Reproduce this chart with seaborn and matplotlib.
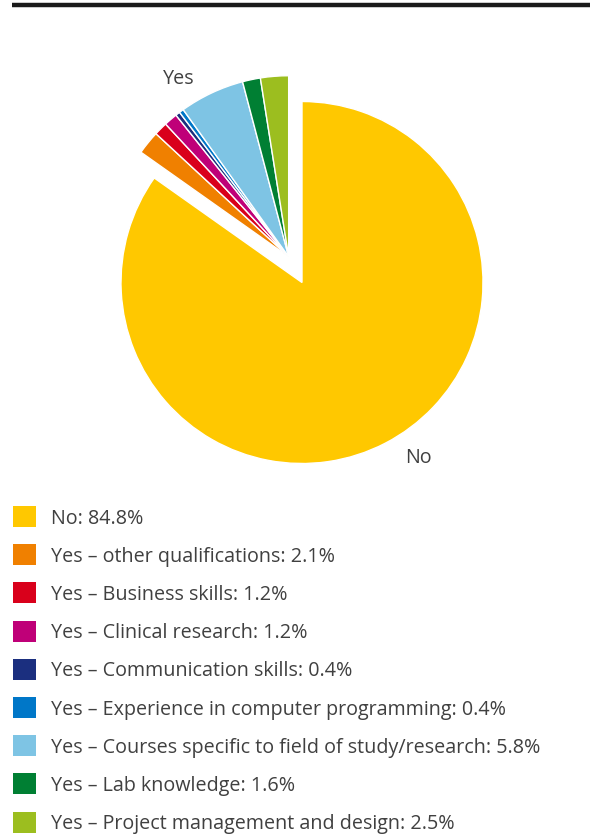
import numpy as np
import matplotlib
matplotlib.use("Agg")
import matplotlib.pyplot as plt
import seaborn as sns

# Answers to "additional training received?" (percent of respondents)
labels = [
    "No",
    "Yes – other qualifications",
    "Yes – Business skills",
    "Yes – Clinical research",
    "Yes – Communication skills",
    "Yes – Experience in computer programming",
    "Yes – Courses specific to field of study/research",
    "Yes – Lab knowledge",
    "Yes – Project management and design",
]
values = [84.8, 2.1, 1.2, 1.2, 0.4, 0.4, 5.8, 1.6, 2.5]
colors = ["#FFC800", "#F08000", "#D9001B", "#BF0078", "#1B2F7F",
          "#0077C8", "#7EC4E4", "#007F33", "#9CBE1F"]
group_labels = ["Yes", "No"]

sns.set_theme(style="white")
plt.rcParams["font.family"] = ["Open Sans", "DejaVu Sans"]
text_color = "#404040"
fs = 14.25

W, H = 590, 834
fig = plt.figure(figsize=(W / 100, H / 100), dpi=100)
ax = fig.add_axes([0, 0, 1, 1])

# rule across the top
ax.plot([12, W], [H - 5, H - 5], color="#1a1a1a", lw=3.2, solid_capstyle="butt")

cx, cy, r = 302, H - 282.5, 181
wedges, _ = ax.pie(values, colors=colors, startangle=90, counterclock=False,
                   radius=r, center=(cx, cy), frame=True,
                   wedgeprops=dict(edgecolor="white", linewidth=1.0))
ax.set_xlim(0, W)
ax.set_ylim(0, H)
ax.set_aspect("equal")
ax.axis("off")

# pull the "Yes" group out together along its bisector
yes_share = sum(values[1:]) / sum(values)
mid = np.deg2rad(90 + yes_share * 360 / 2)
shift = 29
dx, dy = shift * np.cos(mid), shift * np.sin(mid)
for w in wedges[1:]:
    w.set_center((cx + dx, cy + dy))

ax.text(179, H - 79, group_labels[0], ha="center", va="center",
        fontsize=fs, color=text_color)
ax.text(418, H - 458, group_labels[1], ha="center", va="center",
        fontsize=fs, color=text_color)

# legend rows
y0, step = 516.5, 38.2
for i, (lab, v, c) in enumerate(zip(labels, values, colors)):
    y = H - (y0 + i * step)
    ax.add_patch(plt.Rectangle((13, y - 10.5), 23, 21, color=c, lw=0))
    ax.text(51, y - 2, f"{lab}: {v:.1f}%", ha="left", va="center",
            fontsize=fs, color=text_color)

fig.savefig("out.png", dpi=100)
